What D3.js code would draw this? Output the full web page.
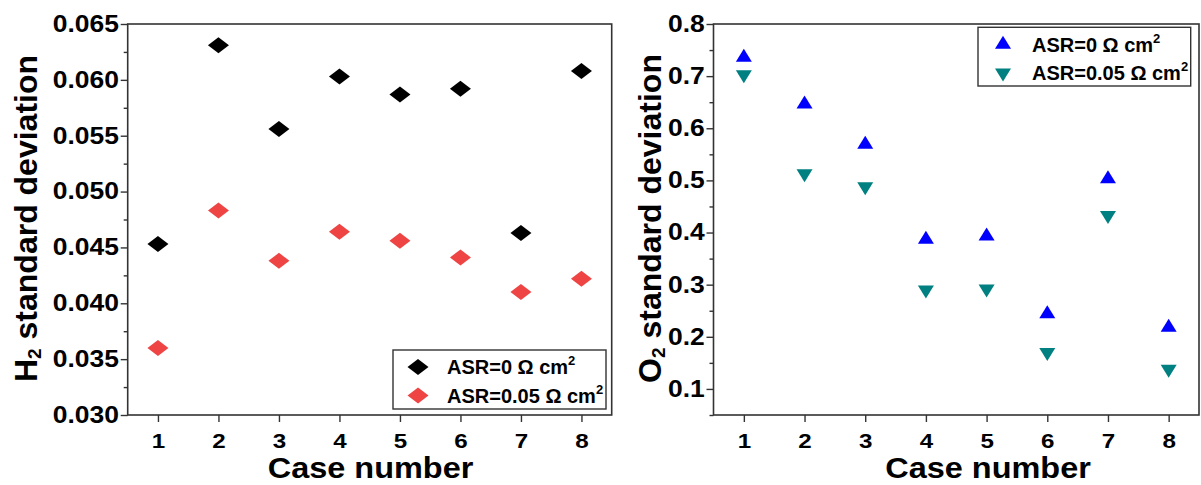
<!DOCTYPE html>
<html>
<head>
<meta charset="utf-8">
<script src="https://cdn.jsdelivr.net/npm/d3@7"></script>
<style>
  body { margin: 0; background: #fff; }
  text { font-family: "Liberation Sans", Arial, sans-serif; font-weight: bold; fill: #000; }
</style>
</head>
<body>
<svg id="chart" width="1201" height="485"></svg>
<script>
// --------------------------
// DATA
// --------------------------
const cases = [1, 2, 3, 4, 5, 6, 7, 8];
const h2Asr0   = [0.0453, 0.0631, 0.0556, 0.0603, 0.0587, 0.0592, 0.0463, 0.0608];
const h2Asr005 = [0.0360, 0.0483, 0.0438, 0.0464, 0.0456, 0.0441, 0.0410, 0.0422];
const o2Asr0   = [0.736, 0.646, 0.569, 0.387, 0.393, 0.244, 0.503, 0.218];
const o2Asr005 = [0.703, 0.513, 0.488, 0.290, 0.292, 0.170, 0.433, 0.138];
const h2Ticks = [0.030, 0.035, 0.040, 0.045, 0.050, 0.055, 0.060, 0.065];
const o2Ticks = [0.1, 0.2, 0.3, 0.4, 0.5, 0.6, 0.7, 0.8];
const seriesNames = ["ASR=0 Ω cm", "ASR=0.05 Ω cm"];

const svg = d3.select("#chart");
const SX = 1.15; // horizontal text stretch seen in the original

// marker shapes
function diamond(w, h) {
    return `M0,${-h/2}L${w/2},0L0,${h/2}L${-w/2},0Z`;
}
function triUp(w, h) {
    return `M0,${-h*2/3}L${w/2},${h/3}L${-w/2},${h/3}Z`;
}
function triDown(w, h) {
    return `M0,${h*2/3}L${w/2},${-h/3}L${-w/2},${-h/3}Z`;
}

// --------------------------
// PANEL
// --------------------------
function drawPanel(cfg) {
    const g = svg.append("g");

    const x = d3.scaleLinear().domain([0.5, 8.5]).range([cfg.left, cfg.right]);
    const y = d3.scaleLinear().domain(cfg.yDomain).range([cfg.bottom, cfg.top]);

    // frame
    g.append("rect")
        .attr("x", cfg.left).attr("y", cfg.top)
        .attr("width", cfg.right - cfg.left)
        .attr("height", cfg.bottom - cfg.top)
        .attr("fill", "none").attr("stroke", "#333").attr("stroke-width", 1.6);

    // minor y ticks
    const minor = [];
    for (let i = 0; i < cfg.ticks.length - 1; i++) minor.push((cfg.ticks[i] + cfg.ticks[i + 1]) / 2);
    if (cfg.ticks[0] - cfg.step / 2 >= cfg.yDomain[0] - 1e-9) minor.push(cfg.ticks[0] - cfg.step / 2);
    g.append("g")
        .attr("transform", `translate(${cfg.left},0)`)
        .call(d3.axisLeft(y).tickValues(minor).tickSize(4).tickFormat(""))
        .call(a => a.select(".domain").remove())
        .call(a => a.selectAll("line").attr("stroke", "#333").attr("stroke-width", 1.4));

    // major y ticks
    const yAxis = g.append("g")
        .attr("transform", `translate(${cfg.left},0)`)
        .call(d3.axisLeft(y).tickValues(cfg.ticks).tickSize(7).tickPadding(0.6).tickFormat(cfg.fmt));
    yAxis.select(".domain").remove();
    yAxis.selectAll("line").attr("stroke", "#333").attr("stroke-width", 1.4);
    yAxis.selectAll("text")
        .attr("font-size", 23).attr("fill", "#000")
        .attr("transform", `scale(${SX},1)`);

    // x ticks
    const xAxis = g.append("g")
        .attr("transform", `translate(0,${cfg.bottom})`)
        .call(d3.axisBottom(x).tickValues(cases).tickSize(7).tickPadding(11).tickFormat(d3.format("d")));
    xAxis.select(".domain").remove();
    xAxis.selectAll("line").attr("stroke", "#333").attr("stroke-width", 1.4);
    xAxis.selectAll("text")
        .attr("font-size", 21).attr("fill", "#000")
        .attr("transform", `scale(${SX},1)`);

    // x title
    g.append("text")
        .attr("transform", `translate(${cfg.xTitleX},478) scale(1.12,1)`)
        .attr("text-anchor", "middle")
        .attr("font-size", 29)
        .text("Case number");

    // y title
    const yt = g.append("text")
        .attr("transform", `translate(${cfg.titleX},${(cfg.top + cfg.bottom) / 2 - 1}) rotate(-90)`)
        .attr("text-anchor", "middle")
        .attr("font-size", 32);
    yt.append("tspan").text(cfg.gas);
    yt.append("tspan").attr("font-size", 19).attr("dy", 4).text("2");
    yt.append("tspan").attr("dy", -4).text(" standard deviation");

    // points
    cfg.series.forEach(s => {
        g.append("g")
            .selectAll("path")
            .data(s.values)
            .enter()
            .append("path")
            .attr("d", s.shape)
            .attr("fill", s.color)
            .attr("transform", (d, i) => `translate(${x(cases[i])},${y(d)})`);
    });

    // legend
    const L = cfg.legend;
    const lg = g.append("g");
    lg.append("rect")
        .attr("x", L.x).attr("y", L.y).attr("width", L.w).attr("height", L.h)
        .attr("fill", "#fff").attr("stroke", "#333").attr("stroke-width", 1.4);
    cfg.series.forEach((s, i) => {
        const cy = L.y + 17 + i * 28.5;
        lg.append("path")
            .attr("d", s.shape)
            .attr("fill", s.color)
            .attr("transform", `translate(${L.x + 25},${cy})`);
        const t = lg.append("text")
            .attr("x", L.x + 54)
            .attr("y", cy + 7.3)
            .attr("font-size", 20);
        t.append("tspan").text(seriesNames[i]);
        t.append("tspan").attr("font-size", 13).attr("dy", -9).text("2");
    });
}

drawPanel({
    left: 127.7, right: 611.7, top: 24, bottom: 415,
    yDomain: [0.030, 0.065], ticks: h2Ticks, step: 0.005,
    fmt: d3.format(".3f"),
    gas: "H", titleX: 36.5, xTitleX: 370.5,
    series: [
        { values: h2Asr0, color: "#000000", shape: diamond(21, 16) },
        { values: h2Asr005, color: "#ee4444", shape: diamond(21, 16) }
    ],
    legend: { x: 393, y: 350, w: 213, h: 59 }
});

drawPanel({
    left: 713.5, right: 1199, top: 24, bottom: 415,
    yDomain: [0.05, 0.8], ticks: o2Ticks, step: 0.1,
    fmt: d3.format(".1f"),
    gas: "O", titleX: 661, xTitleX: 988,
    series: [
        { values: o2Asr0, color: "#0000ff", shape: triUp(16, 13) },
        { values: o2Asr005, color: "#008080", shape: triDown(16, 13) }
    ],
    legend: { x: 978, y: 27.3, w: 212.7, h: 58.7 }
});
</script>
</body>
</html>
